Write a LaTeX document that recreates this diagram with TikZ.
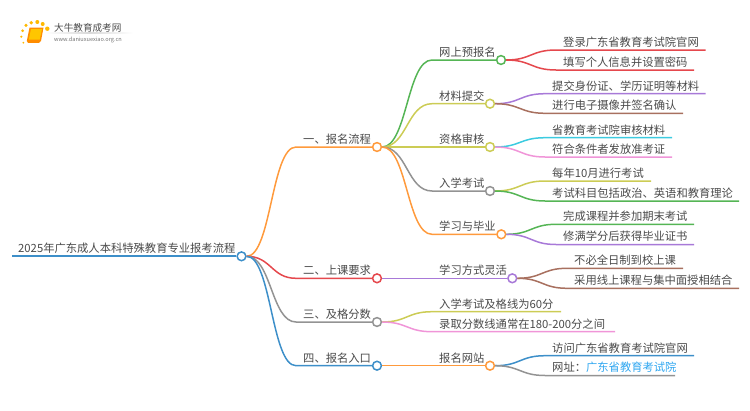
\documentclass[tikz,border=0pt]{standalone}
\usepackage{fontspec}
\setmainfont{Noto Sans CJK SC}
\usetikzlibrary{calc}
\definecolor{cOrange}{HTML}{FF9A3C}
\definecolor{cGreen}{HTML}{55B555}
\definecolor{cOlive}{HTML}{CCCC55}
\definecolor{cGray}{HTML}{939393}
\definecolor{cRed}{HTML}{E5484D}
\definecolor{cPurple}{HTML}{A879D8}
\definecolor{cBlue}{HTML}{3D8FC9}
\definecolor{cBrown}{HTML}{A8705F}
\definecolor{cCyan}{HTML}{3CCBE0}
\definecolor{cPink}{HTML}{F095D8}
\definecolor{cText}{HTML}{4A4A4A}
\definecolor{cLink}{HTML}{2EA6F0}
\tikzset{
  x=1pt,y=-1pt,
  hub/.style={circle,draw=#1,fill=white,line width=1.5pt,minimum size=8.8pt,inner sep=0pt},
  lbl/.style={anchor=base west,inner sep=0pt,text=cText,font=\fontsize{11.3}{13}\selectfont},
  wire/.style={draw=#1,line width=1.5pt},
  sl/.style={to path={let \p1=(\tikztostart),\p2=(\tikztotarget),\n1={0.5*(\x2-\x1)} in
     .. controls ($(\p1)+(\n1,0)$) and ($(\p2)-(\n1,0)$) .. (\tikztotarget)}},
}
% \leaf{name}{parent}{bend x}{y}{end x}{text x}{colour}{text}
\newcommand{\leafnode}[8]{%
  \coordinate (#1b) at (#3,#4);
  \coordinate (#1e) at (#5,#4);
  \node[lbl] (#1) at (#6,#4-3.6) {#8};
  \draw[wire=#7] (#2.east) to[sl] (#1b) -- (#1e);
}
% \branch{name}{parent}{bend x}{x}{y}{text x}{colour}{text}
\newcommand{\branchnode}[8]{%
  \node[hub=#7] (#1) at (#4,#5) {};
  \coordinate (#1b) at (#3,#5);
  \node[lbl] (#1t) at (#6,#5-3.6) {#8};
  \draw[wire=#7] (#2.east) to[sl] (#1b) -- (#1.west);
}
\begin{document}
\begin{tikzpicture}
\useasboundingbox (0,0) rectangle (750,410);
% logo
\foreach \px/\py/\pr in {22.7/30.7/1.5,26/25.3/1.7,31.3/22.7/1.9,37.3/22/2,42.7/24/2,47.3/28.7/2.2,21.3/36.7/1.2,23.3/42.7/1}
  \fill[orange!55!yellow] (\px,\py) circle (\pr);
\fill[orange!90!yellow] (29.5,27.5) -- (43.5,27.5) -- (41,41) -- (39,42.8) -- (28,42.8) -- (26.8,41) -- cycle;
\fill[orange!45!yellow] (31,29) -- (42,29) -- (39.7,39.5) -- (28.8,39.5) -- cycle;
\shade[left color=white,right color=white,middle color=black!15] (45,32.6) rectangle (133,33.4);
\node[anchor=base west,inner sep=0pt,text=black!70,font=\fontsize{9.6}{11}\selectfont] (logot) at (54,31) {大牛教育成考网};
\node[anchor=base west,inner sep=0pt,text=black!55,font=\fontsize{5.6}{7}\selectfont] (logou) at (54,41) {www.daniuxuexiao.org.cn};
% root
\node[hub=cBlue] (root) at (241.5,256.3) {};
\coordinate (rootl) at (12,256.3);
\draw[wire=cBlue,line width=1.8pt] (rootl) -- (root.west);
\node[lbl] (roott) at (18,252.7) {2025年广东成人本科特殊教育专业报考流程};
% level 1
\branchnode{a}{root}{296}{377}{147}{303}{cOrange}{一、报名流程}
\branchnode{b}{root}{296}{377}{278.3}{303}{cRed}{二、上课要求}
\branchnode{c}{root}{296}{377}{322}{303}{cGray}{三、及格分数}
\branchnode{d}{root}{296}{377}{365.7}{303}{cBlue}{四、报名入口}
% level 2
\branchnode{a1}{a}{432}{501}{60}{439}{cGreen}{网上预报名}
\branchnode{a2}{a}{432}{490}{103.7}{439}{cOlive}{材料提交}
\branchnode{a3}{a}{432}{490}{147}{439}{cOlive}{资格审核}
\branchnode{a4}{a}{432}{490}{191}{439}{cGray}{入学考试}
\branchnode{a5}{a}{432}{501.3}{234.3}{439}{cOrange}{学习与毕业}
\branchnode{b1}{b}{432}{512.3}{278.3}{439}{cPurple}{学习方式灵活}
\branchnode{d1}{d}{432}{490}{365.7}{439}{cOrange}{报名网站}
% level 3
\leafnode{l1}{a1}{556}{50}{705.7}{563}{cRed}{登录广东省教育考试院官网}
\leafnode{l2}{a1}{556}{70}{694}{563}{cRed}{填写个人信息并设置密码}
\leafnode{l3}{a2}{545}{93.7}{705.7}{552}{cPurple}{提交身份证、学历证明等材料}
\leafnode{l4}{a2}{545}{113.3}{683}{552}{cBrown}{进行电子摄像并签名确认}
\leafnode{l5}{a3}{545}{137.7}{672}{552}{cCyan}{省教育考试院审核材料}
\leafnode{l6}{a3}{545}{157}{672}{552}{cPink}{符合条件者发放准考证}
\leafnode{l7}{a4}{545}{181}{651}{552}{cOlive}{每年10月进行考试}
\leafnode{l8}{a4}{545}{201}{739}{552}{cGreen}{考试科目包括政治、英语和教育理论}
\leafnode{l9}{a5}{556}{224.3}{694}{563}{cGreen}{完成课程并参加期末考试}
\leafnode{l10}{a5}{556}{244.5}{694}{563}{cPurple}{修满学分后获得毕业证书}
\leafnode{l11}{b1}{567}{268.3}{683}{574}{cBrown}{不必全日制到校上课}
\leafnode{l12}{b1}{567}{288.3}{739}{574}{cBrown}{采用线上课程与集中面授相结合}
\leafnode{l13}{c}{432}{311.7}{561}{439}{cOlive}{入学考试及格线为60分}
\leafnode{l14}{c}{432}{331.7}{615}{439}{cPink}{录取分数线通常在180-200分之间}
\leafnode{l15}{d1}{545}{355.7}{694}{552}{cBlue}{访问广东省教育考试院官网}
\leafnode{l16}{d1}{545}{375.5}{675}{552}{cGray}{网址：\textcolor{cLink}{广东省教育考试院}}
\end{tikzpicture}
\end{document}
